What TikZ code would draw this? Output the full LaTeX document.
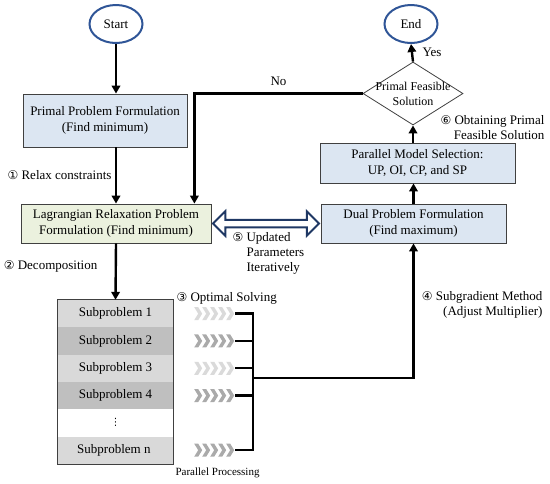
\documentclass[tikz,border=0pt]{standalone}
\usepackage{fontspec}
\setmainfont{Liberation Serif}
\newfontfamily\circfont{DejaVu Sans}
\usetikzlibrary{shapes.geometric,shapes.arrows,arrows.meta,positioning,calc}
\definecolor{boxblue}{RGB}{220,230,242}
\definecolor{boxgreen}{RGB}{235,241,222}
\definecolor{ovalblue}{RGB}{47,85,151}
\definecolor{arrownavy}{RGB}{31,56,100}
\definecolor{subgray}{RGB}{217,217,217}
\definecolor{subdark}{RGB}{191,191,191}
\definecolor{chevlight}{RGB}{218,218,218}
\definecolor{chevdark}{RGB}{170,170,170}
\definecolor{edgegray}{RGB}{64,64,64}
\newcommand{\circnum}[1]{{\circfont\fontsize{12}{14}\selectfont #1}}

\begin{document}
\begin{tikzpicture}[x=1pt, y=-1pt,
          font=\fontsize{13}{16}\selectfont,
          every node/.style={align=center},
          procbox/.style={rectangle, draw=edgegray, line width=0.8pt, inner sep=0pt},
          termoval/.style={ellipse, draw=ovalblue, line width=2pt, fill=white,
                           minimum width=53pt, minimum height=38pt, inner sep=0pt},
          flowarrow/.style={line width=2.4pt, -{Triangle[length=8pt,width=8.5pt]}},
          busline/.style={line width=2.4pt}]
          \useasboundingbox (0,0) rectangle (550,483);
          % terminals and main boxes
          \node[termoval] (start) at (116,24) {Start};
          \node[termoval] (end) at (411,24) {End};
          \node[procbox, fill=boxblue, minimum width=164pt, minimum height=53pt]
            (primal) at (105,120.5) {Primal Problem Formulation\\(Find minimum)};
          \node[procbox, fill=boxgreen, minimum width=190pt, minimum height=39pt]
            (lag) at (116,223.5) {Lagrangian Relaxation Problem\\Formulation (Find minimum)};
          \node[procbox, fill=boxblue, minimum width=185pt, minimum height=39pt]
            (dual) at (413.5,223.5) {Dual Problem Formulation\\(Find maximum)};
          \node[procbox, fill=boxblue, minimum width=195pt, minimum height=40pt]
            (par) at (417.5,163) {Parallel Model Selection:\\UP, OI, CP, and SP};
          \node[diamond, draw=edgegray, line width=0.8pt, fill=white,
                minimum width=100pt, minimum height=63pt, inner sep=0pt,
                label={[font=\fontsize{12}{15}\selectfont]center:{Primal Feasible\\Solution}}]
            (feas) at (413,93.5) {};
          % subproblem stack
          \def\rowh{27.3}
          \foreach \i/\fc/\lbl in {
            1/subgray/Subproblem 1,
            2/subdark/Subproblem 2,
            3/subgray/Subproblem 3,
            4/subdark/Subproblem 4,
            5/white/{\circfont\fontsize{10}{12}\selectfont ⋮},
            6/subgray/Subproblem n
          }{
            \node[fill=\fc, minimum width=115pt, minimum height=\rowh pt, inner sep=0pt]
              (sub\i) at (115.5, 300+\rowh*\i-\rowh/2) {\lbl};
          }
          \draw[edgegray, line width=0.8pt] (sub1.north west) rectangle (sub6.south east);
          % chevrons for parallel processing
          \foreach \i/\cc in {1/chevlight,2/chevdark,3/chevlight,4/chevdark,6/chevdark}{
            \foreach \k in {0,...,4}
              \fill[\cc] ($(sub\i.east)+(21+8*\k,-6.5)$) -- ++(4,0) -- ++(4,6.5)
                -- ++(-4,6.5) -- ++(-4,0) -- ++(4,-6.5) -- cycle;
            \coordinate (tip\i) at ($(sub\i.east)+(62,0)$);
          }
          \draw[busline] (tip1) -- ++(18,0) |- (tip6);
          \foreach \i in {2,3,4}
            \draw[busline] (tip\i) -- ++(18,0);
          \coordinate (join) at ($(tip3)+(18,10)$);
          % flow arrows
          \draw[flowarrow] (start.south) -- (start.south |- primal.north);
          \draw[flowarrow] (primal.south -| lag.north) -- (lag.north)
            node[midway, left] {\circnum{①} Relax constraints};
          \draw[flowarrow] (lag.south) -- (sub1.north)
            node[pos=0.4, left=14pt] {\circnum{②} Decomposition};
          \draw[flowarrow] (join) -| (dual.south);
          \draw[flowarrow] (dual.north) -- (dual.north |- par.south);
          \draw[flowarrow] (par.north -| feas.south) -- (feas.south);
          \draw[flowarrow] (feas.north) -- (end.south)
            node[midway, right=6pt] {Yes};
          \draw[flowarrow] (feas.west) -| ([xshift=-17pt]lag.north east)
            node[pos=0.25, above=3pt] {No};
          \path (lag.east) -- (dual.west)
            node[midway, double arrow, draw=arrownavy, line width=2pt, fill=white,
                 minimum height=106pt, minimum width=0pt, inner xsep=0pt, inner ysep=2.75pt,
                 double arrow head extend=8.5pt] (upd) {};
          % step labels
          \node[anchor=north west, align=left, font=\fontsize{13}{15}\selectfont] (step5) at (229,229)
            {\circnum{⑤} Updated\\\hphantom{\circnum{⑤}\ }Parameters\\\hphantom{\circnum{⑤}\ }Iteratively};
          \node[anchor=west] (step3) at (173,298) {\circnum{③} Optimal Solving};
          \node[anchor=east, align=right, font=\fontsize{13}{15}\selectfont] (step4) at (546,305)
            {\circnum{④} Subgradient Method\\(Adjust Multiplier)};
          \node[anchor=east, align=right, font=\fontsize{13}{15}\selectfont] (step6) at (548,128)
            {\circnum{⑥} Obtaining Primal\\Feasible Solution};
          \node[anchor=west, font=\fontsize{11}{13}\selectfont] (parproc) at (172,473) {Parallel Processing};
        \end{tikzpicture}
\end{document}
